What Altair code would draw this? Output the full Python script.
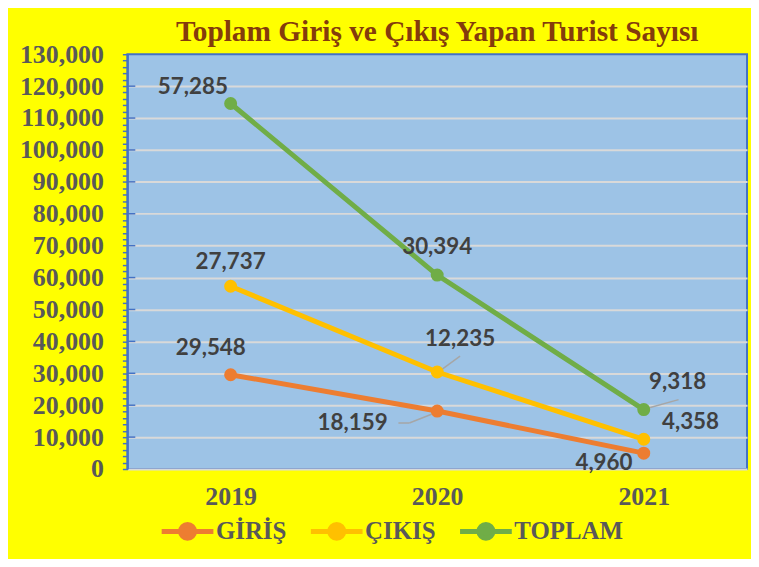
import altair as alt
import pandas as pd

# ---- data ----
years = ["2019", "2020", "2021"]
series = ["GİRİŞ", "ÇIKIŞ", "TOPLAM"]
giris = [29548, 18159, 4960]
cikis = [27737, 12235, 4358]
toplam = [57285, 30394, 9318]
colors = ["#ED7D31", "#FFC000", "#70AD47"]
y_major = [10000, 20000, 30000, 40000, 50000, 60000, 70000, 80000, 90000, 100000, 110000, 120000]
y_minor = [
    0, 2000, 4000, 6000, 8000, 10000, 12000, 14000, 16000, 18000, 20000,
    22000, 24000, 26000, 28000, 30000, 32000, 34000, 36000, 38000, 40000,
    42000, 44000, 46000, 48000, 50000, 52000, 54000, 56000, 58000, 60000,
    62000, 64000, 66000, 68000, 70000, 72000, 74000, 76000, 78000, 80000,
    82000, 84000, 86000, 88000, 90000, 92000, 94000, 96000, 98000, 100000,
    102000, 104000, 106000, 108000, 110000, 112000, 114000, 116000, 118000,
    120000, 122000, 124000, 126000, 128000, 130000,
]

rows = []
for i, (s, vals) in enumerate(zip(series, [giris, cikis, toplam])):
    for y, v in zip(years, vals):
        rows.append({"series": s, "year": y, "value": v, "order": i})
df = pd.DataFrame(rows)

SERIF = "Liberation Serif"
GRAY = "#595959"
BLUE = "#4472C4"

base = alt.Chart(df).transform_stack(
    stack="value", groupby=["year"], as_=["y0", "y1"], sort=[alt.SortField("order")]
)

x_scale = alt.Scale(type="point", padding=0.5, domain=years)
x_axis = alt.Axis(
    labelAngle=0, ticks=False, domainColor="#D9D9D9", domainWidth=2,
    labelFont=SERIF, labelFontSize=26, labelFontWeight="bold",
    labelColor=GRAY, labelPadding=15, title=None, grid=False,
)
x_enc = alt.X("year:O", scale=x_scale, axis=x_axis)

y_scale = alt.Scale(domain=[0, 130000], nice=False, zero=True)
y_axis = alt.Axis(
    values=y_minor,
    labelExpr="datum.value % 10000 === 0 ? format(datum.value, ',') : ''",
    labelOverlap=False,
    tickSize=5, tickColor=BLUE, tickWidth=1.5,
    domainColor=BLUE, domainWidth=2,
    gridColor="#D9D9D9", gridWidth=2,
    gridOpacity={"condition": {"test": "datum.value % 10000 === 0 && datum.value > 0 && datum.value < 130000", "value": 1}, "value": 0},
    labelFont=SERIF, labelFontSize=26, labelFontWeight="bold",
    labelColor=GRAY, labelPadding=19, title=None,
)
y_enc = alt.Y("y1:Q", scale=y_scale, axis=y_axis)

legend_path = "M-1,0L1,0M-0.27,0A0.27,0.27,0,1,1,0.27,0A0.27,0.27,0,1,1,-0.27,0Z"
color_enc = alt.Color(
    "series:N",
    scale=alt.Scale(domain=series, range=colors),
    sort=series,
    legend=alt.Legend(
        title=None, orient="none", direction="horizontal",
        legendX=32, legendY=451,
        symbolType=legend_path, symbolSize=2704, symbolStrokeWidth=5,
        labelFont=SERIF, labelFontSize=25, labelFontWeight="bold",
        labelColor=GRAY, labelOffset=0, columnPadding=14,
    ),
)

inner_ticks = alt.Chart(pd.DataFrame({"v": y_major})).mark_rule(
    color=BLUE, strokeWidth=1.5
).encode(x=alt.value(0), x2=alt.value(8), y=alt.Y("v:Q", scale=y_scale, axis=y_axis))

lines = base.mark_line(
    strokeWidth=5,
    point=alt.OverlayMarkDef(filled=True, size=170, opacity=1),
).encode(x=x_enc, y=y_enc, color=color_enc, order="year:O")

# label offsets (dx, dy) per series/year
label_offsets = {
    ("TOPLAM", "2019"): (-38, -17),
    ("TOPLAM", "2020"): (0, -28),
    ("TOPLAM", "2021"): (34, -28),
    ("ÇIKIŞ", "2019"): (0, -24),
    ("ÇIKIŞ", "2020"): (23, -33),
    ("ÇIKIŞ", "2021"): (47, -17),
    ("GİRİŞ", "2019"): (-20, -27),
    ("GİRİŞ", "2020"): (-85, 12),
    ("GİRİŞ", "2021"): (-40, 10),
}
texts = []
for (s, y), (dx, dy) in label_offsets.items():
    texts.append(
        base.transform_filter(
            (alt.datum.series == s) & (alt.datum.year == y)
        ).mark_text(
            dx=dx, dy=dy, font="Lato", fontSize=22.5, fontWeight="bold",
            color="#404040", align="center", baseline="middle",
        ).encode(x=x_enc, y=y_enc, text=alt.Text("value:Q", format=","))
    )

# leader lines (start offset, end offset)
leaders = [
    ("TOPLAM", "2021", (3, -1), (35, -10)),
    ("ÇIKIŞ", "2020", (1, 0), (23, -16)),
    ("GİRİŞ", "2020", (0, 1), (-28, 12)),
    ("GİRİŞ", "2020", (-28, 12), (-39, 12)),
]
leader_layers = []
for s, y, (ox, oy), (ex, ey) in leaders:
    leader_layers.append(
        base.transform_filter(
            (alt.datum.series == s) & (alt.datum.year == y)
        ).mark_rule(
            color="#A6A6A6", strokeWidth=1.5,
            xOffset=ox, yOffset=oy, x2Offset=ex, y2Offset=ey,
        ).encode(x=x_enc, y=y_enc, x2="year", y2="y1")
    )

chart = alt.layer(inner_ticks, *leader_layers, lines, *texts).properties(
    width=623,
    height=417,
    autosize=alt.AutoSizeParams(type="none"),
    padding={"left": 120, "top": 45, "right": 4, "bottom": 89},
    background="#FFFF00",
    title=alt.TitleParams(
        "Toplam Giriş ve Çıkış Yapan Turist Sayısı",
        font=SERIF, fontSize=29.5, fontWeight="bold", color="#843C0C",
        anchor="middle", offset=-6,
    ),
).configure_view(
    fill="#9DC3E6", stroke=BLUE, strokeWidth=2
)

chart.save("out.html", embed_options={"renderer": "svg", "actions": False})
